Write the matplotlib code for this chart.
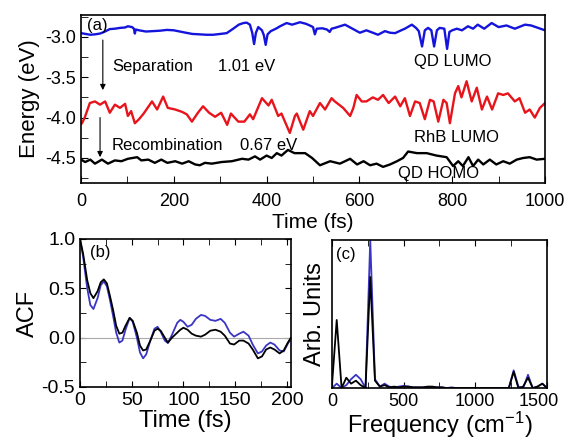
import matplotlib
matplotlib.use("Agg")
import matplotlib.pyplot as plt
import matplotlib.transforms as mtransforms
from matplotlib.ticker import MultipleLocator

plt.rcParams['font.family'] = ['Liberation Sans', 'DejaVu Sans']
plt.rcParams['mathtext.fontset'] = 'custom'
plt.rcParams['mathtext.rm'] = 'Liberation Sans'
plt.rcParams['mathtext.it'] = 'Liberation Sans:italic'
plt.rcParams['axes.unicode_minus'] = False

# (a) energy levels along the trajectory
lumo_t = [0, 10, 20, 30, 41, 50, 62, 73, 84, 95, 101, 110, 114, 116, 118, 125, 140, 155, 170, 185,
          200, 213, 226, 240, 256, 270, 285, 300, 314, 328, 340, 350, 357, 364, 369, 373, 377, 382,
          390, 394, 398, 402, 409, 420, 429, 443, 455, 472, 485, 493, 500, 504, 508, 520, 530, 536,
          540, 547, 569, 585, 601, 615, 629, 640, 655, 666, 677, 690, 698, 713, 722, 728, 735, 741,
          748, 755, 761, 767, 773, 783, 789, 794, 800, 810, 821, 834, 845, 855, 869, 885, 900, 917,
          935, 957, 970, 985, 1000]
lumo_e = [-2.955, -2.965, -2.975, -2.97, -2.96, -2.94, -2.905, -2.90, -2.89, -2.885, -2.87, -2.88,
          -2.90, -2.96, -2.91, -2.92, -2.935, -2.93, -2.925, -2.915, -2.92, -2.935, -2.95, -2.965,
          -2.97, -2.975, -2.975, -2.965, -2.955, -2.90, -2.85, -2.83, -2.825, -2.85, -2.95, -3.09,
          -2.95, -2.88, -2.92, -2.98, -3.10, -2.97, -2.93, -2.90, -2.87, -2.83, -2.85, -2.82, -2.84,
          -2.86, -2.88, -2.97, -2.90, -2.895, -2.91, -2.94, -2.90, -2.89, -2.85, -2.90, -2.95, -2.92,
          -2.95, -2.975, -2.93, -2.95, -2.955, -2.92, -2.90, -2.85, -2.89, -2.93, -3.12, -2.92,
          -2.89, -2.92, -3.12, -2.92, -2.89, -2.90, -3.15, -2.94, -2.92, -2.90, -2.92, -2.87, -2.90,
          -2.85, -2.90, -2.83, -2.88, -2.86, -2.90, -2.85, -2.86, -2.89, -2.92]

rhb_t = [0, 2, 8, 19, 30, 41, 52, 62, 73, 84, 95, 101, 108, 116, 125, 135, 153, 164, 177, 187,
         203, 218, 228, 239, 252, 263, 276, 289, 302, 315, 323, 339, 352, 364, 371, 390, 404, 411,
         425, 432, 450, 461, 465, 479, 493, 500, 515, 526, 540, 547, 565, 580, 587, 594, 605, 615,
         629, 640, 651, 663, 677, 688, 698, 709, 720, 730, 741, 752, 760, 770, 781, 788, 795, 806,
         813, 820, 831, 842, 853, 864, 875, 886, 899, 910, 920, 935, 945, 957, 967, 978, 989, 1000]
rhb_e = [-4.08, -4.07, -4.0, -3.82, -3.80, -3.84, -3.80, -3.94, -3.84, -3.88, -3.83, -3.98, -3.92,
         -4.07, -4.02, -3.95, -3.80, -3.90, -3.74, -3.88, -3.90, -3.93, -3.96, -4.05, -3.94, -3.86,
         -3.94, -3.99, -3.94, -4.09, -3.95, -4.05, -4.05, -3.96, -4.02, -3.76, -3.85, -3.78, -3.98,
         -3.95, -4.19, -3.98, -3.95, -4.15, -3.92, -3.98, -3.82, -3.90, -3.76, -3.80, -3.88, -3.98,
         -3.88, -3.72, -3.80, -3.80, -3.75, -3.78, -3.72, -3.82, -3.74, -3.86, -3.76, -3.98, -3.80,
         -3.82, -4.02, -3.78, -3.80, -4.05, -3.78, -3.82, -4.07, -3.70, -3.61, -3.75, -3.55, -3.80,
         -3.63, -3.90, -3.74, -3.90, -3.70, -3.72, -3.70, -3.80, -3.76, -3.94, -3.90, -4.00, -3.88,
         -3.82]

homo_t = [0, 9, 20, 30, 45, 58, 73, 87, 101, 121, 130, 145, 159, 173, 186, 203, 218, 232, 246, 256,
          267, 282, 303, 325, 347, 361, 375, 386, 400, 411, 422, 432, 446, 460, 483, 498, 515, 537,
          558, 580, 595, 609, 623, 637, 651, 666, 681, 694, 705, 724, 745, 766, 788, 802, 813, 823,
          835, 845, 856, 867, 881, 895, 910, 924, 939, 953, 967, 982, 1000]
homo_e = [-4.52, -4.55, -4.52, -4.57, -4.52, -4.57, -4.53, -4.54, -4.51, -4.49, -4.53, -4.52, -4.56,
          -4.52, -4.56, -4.54, -4.57, -4.54, -4.58, -4.59, -4.56, -4.57, -4.55, -4.54, -4.51, -4.52,
          -4.48, -4.52, -4.47, -4.50, -4.44, -4.47, -4.40, -4.44, -4.44, -4.50, -4.59, -4.54, -4.57,
          -4.51, -4.58, -4.54, -4.59, -4.57, -4.61, -4.58, -4.54, -4.50, -4.42, -4.44, -4.44, -4.47,
          -4.49, -4.60, -4.54, -4.60, -4.49, -4.60, -4.52, -4.58, -4.52, -4.58, -4.54, -4.57, -4.52,
          -4.50, -4.49, -4.52, -4.51]

# (b) autocorrelation of the two gaps
acf_t = [0, 3, 7, 10, 13, 17, 20, 23, 26, 29, 32, 35, 38, 41, 44, 48, 51, 55, 58, 61, 64, 68, 72,
         75, 78, 82, 85, 89, 94, 97, 100, 104, 108, 112, 117, 121, 126, 131, 136, 140, 145, 149, 154,
         158, 163, 167, 172, 176, 180, 184, 188, 193, 197, 201, 204]
acf_sep = [1.0, 0.82, 0.50, 0.33, 0.29, 0.40, 0.53, 0.57, 0.52, 0.38, 0.22, 0.05, -0.05, -0.03,
           0.08, 0.20, 0.16, 0.0, -0.15, -0.21, -0.17, -0.03, 0.09, 0.11, 0.06, -0.03, -0.055, 0.03,
           0.15, 0.18, 0.16, 0.11, 0.13, 0.19, 0.23, 0.22, 0.18, 0.17, 0.19, 0.15, 0.05, 0.01, 0.04,
           0.06, 0.02, -0.07, -0.16, -0.14, -0.08, -0.05, -0.07, -0.13, -0.14, -0.06, -0.01]
acf_rec = [1.0, 0.85, 0.58, 0.45, 0.40, 0.47, 0.56, 0.59, 0.55, 0.42, 0.28, 0.12, 0.04, 0.05, 0.12,
           0.20, 0.17, 0.05, -0.08, -0.13, -0.12, -0.03, 0.07, 0.09, 0.07, 0.0, -0.05, 0.0, 0.05,
           0.08, 0.10, 0.08, 0.04, 0.02, 0.01, 0.03, 0.07, 0.08, 0.06, 0.02, -0.06, -0.07, -0.03,
           -0.03, -0.06, -0.12, -0.21, -0.19, -0.12, -0.10, -0.12, -0.16, -0.13, -0.05, 0.0]

# (c) spectral densities
freq = [0, 33, 67, 100, 133, 167, 200, 234, 267, 300, 334, 367, 400, 434, 467, 500, 534, 567, 600,
        634, 667, 701, 734, 767, 801, 834, 867, 901, 934, 967, 1001, 1034, 1067, 1101, 1134, 1168,
        1201, 1234, 1268, 1301, 1334, 1368, 1401, 1434, 1468, 1501]
fft_sep = [0.0, 0.03, 0.0, 0.02, 0.06, 0.09, 0.06, 0.0, 1.0, 0.06, 0.01, 0.03, 0.01, 0.005, 0.01,
           0.015, 0.01, 0.005, 0.005, 0.005, 0.005, 0.005, 0.005, 0.005, 0.0, 0.005, 0.0, 0.0, 0.0,
           0.0, 0.0, 0.0, 0.0, 0.0, 0.0, 0.0, 0.0, 0.0, 0.12, 0.01, 0.0, 0.09, 0.0, 0.01, 0.03, 0.0]
fft_rec = [0.02, 0.46, 0.0, 0.07, 0.03, 0.05, 0.02, 0.0, 0.75, 0.05, 0.01, 0.02, 0.005, 0.01, 0.005,
           0.01, 0.01, 0.005, 0.005, 0.005, 0.01, 0.01, 0.005, 0.005, 0.0, 0.0, 0.0, 0.0, 0.0, 0.0,
           0.0, 0.0, 0.0, 0.0, 0.0, 0.0, 0.0, 0.0, 0.11, 0.0, 0.01, 0.07, 0.0, 0.01, 0.03, 0.0]

blue = '#1414dc'
red = '#e8141c'
blue2 = '#3a36c4'

fig = plt.figure(figsize=(5.65, 4.4), dpi=100)
ax1 = fig.add_axes([0.1434, 0.584, 0.8212, 0.382])
ax2 = fig.add_axes([0.1416, 0.1205, 0.3734, 0.3365])
ax3 = fig.add_axes([0.5876, 0.118, 0.3804, 0.3365])

ax1.plot(lumo_t, lumo_e, color=blue, lw=1.7)
ax1.plot(rhb_t, rhb_e, color=red, lw=1.7)
ax1.plot(homo_t, homo_e, color='black', lw=1.7)
ax1.set_xlim(0, 1000)
ax1.set_ylim(-4.81, -2.73)
ax1.xaxis.set_major_locator(MultipleLocator(200))
ax1.xaxis.set_minor_locator(MultipleLocator(100))
ax1.yaxis.set_minor_locator(MultipleLocator(0.25))
ax1.set_yticks([-3.0, -3.5, -4.0, -4.5])
ax1.set_yticklabels(['-3.0', '-3.5', '-4.0', '-4.5'])
ax1.tick_params(which='both', direction='in', labelsize=13, length=5)
ax1.tick_params(axis='x', pad=7)
ax1.set_xlabel('Time (fs)', fontsize=15, labelpad=2)
ax1.set_ylabel('Energy (eV)', fontsize=16, labelpad=4)

ax1.text(13, -2.865, '(a)', fontsize=12, va='center')
ax1.text(67, -3.37, 'Separation', fontsize=12, va='center')
ax1.text(295, -3.37, '1.01 eV', fontsize=12, va='center')
ax1.text(802, -3.30, 'QD LUMO', fontsize=12, va='center', ha='center')
ax1.text(810, -4.25, 'RhB LUMO', fontsize=12, va='center', ha='center')
ax1.text(67, -4.34, 'Recombination', fontsize=12, va='center')
ax1.text(343, -4.34, '0.67 eV', fontsize=12, va='center')
ax1.text(770, -4.69, 'QD HOMO', fontsize=12, va='center', ha='center')
arrow = dict(arrowstyle='-|>', color='black', lw=0.8, mutation_scale=8, shrinkA=0, shrinkB=0)
ax1.annotate('', xy=(47, -3.66), xytext=(47, -3.04), arrowprops=arrow)
ax1.annotate('', xy=(41, -4.49), xytext=(41, -4.0), arrowprops=arrow)

ax2.axhline(0, color='#aaaaaa', lw=0.8)
ax2.plot(acf_t, acf_sep, color=blue2, lw=1.3)
ax2.plot(acf_t, acf_rec, color='black', lw=1.3)
ax2.set_xlim(0, 204)
ax2.set_ylim(-0.5, 1.0)
ax2.xaxis.set_major_locator(MultipleLocator(50))
ax2.xaxis.set_minor_locator(MultipleLocator(25))
ax2.yaxis.set_major_locator(MultipleLocator(0.5))
ax2.yaxis.set_minor_locator(MultipleLocator(0.25))
ax2.tick_params(which='both', direction='in', top=True, right=True, labelsize=14, length=4)
ax2.set_xlabel('Time (fs)', fontsize=17, labelpad=1)
ax2.set_ylabel('ACF', fontsize=17, labelpad=2)
ax2.text(10, 0.86, '(b)', fontsize=12, va='center')

ax3.plot(freq, fft_sep, color=blue2, lw=1.3)
ax3.plot(freq, fft_rec, color='black', lw=1.3)
ax3.set_xlim(0, 1500)
ax3.set_ylim(0, 1.0)
ax3.set_xticks([0, 500, 1000, 1500])
ax3.xaxis.set_minor_locator(MultipleLocator(250))
ax3.set_yticks([])
ax3.tick_params(which='both', direction='in', top=True, labelsize=13, length=4)
ax3.set_xlabel('Frequency (cm$^{-1}$)', fontsize=17, labelpad=0)
ax3.set_ylabel('Arb. Units', fontsize=17, labelpad=4)
ax3.text(28, 0.905, '(c)', fontsize=12, va='center')
# keep the last frequency label inside the canvas
last = ax3.get_xticklabels()[-1]
last.set_horizontalalignment('right')
last.set_transform(last.get_transform() + mtransforms.ScaledTranslation(0.12, 0, fig.dpi_scale_trans))

for ax in (ax1, ax2, ax3):
    for s in ax.spines.values():
        s.set_linewidth(1.2)

fig.savefig('out.png', dpi=100)
